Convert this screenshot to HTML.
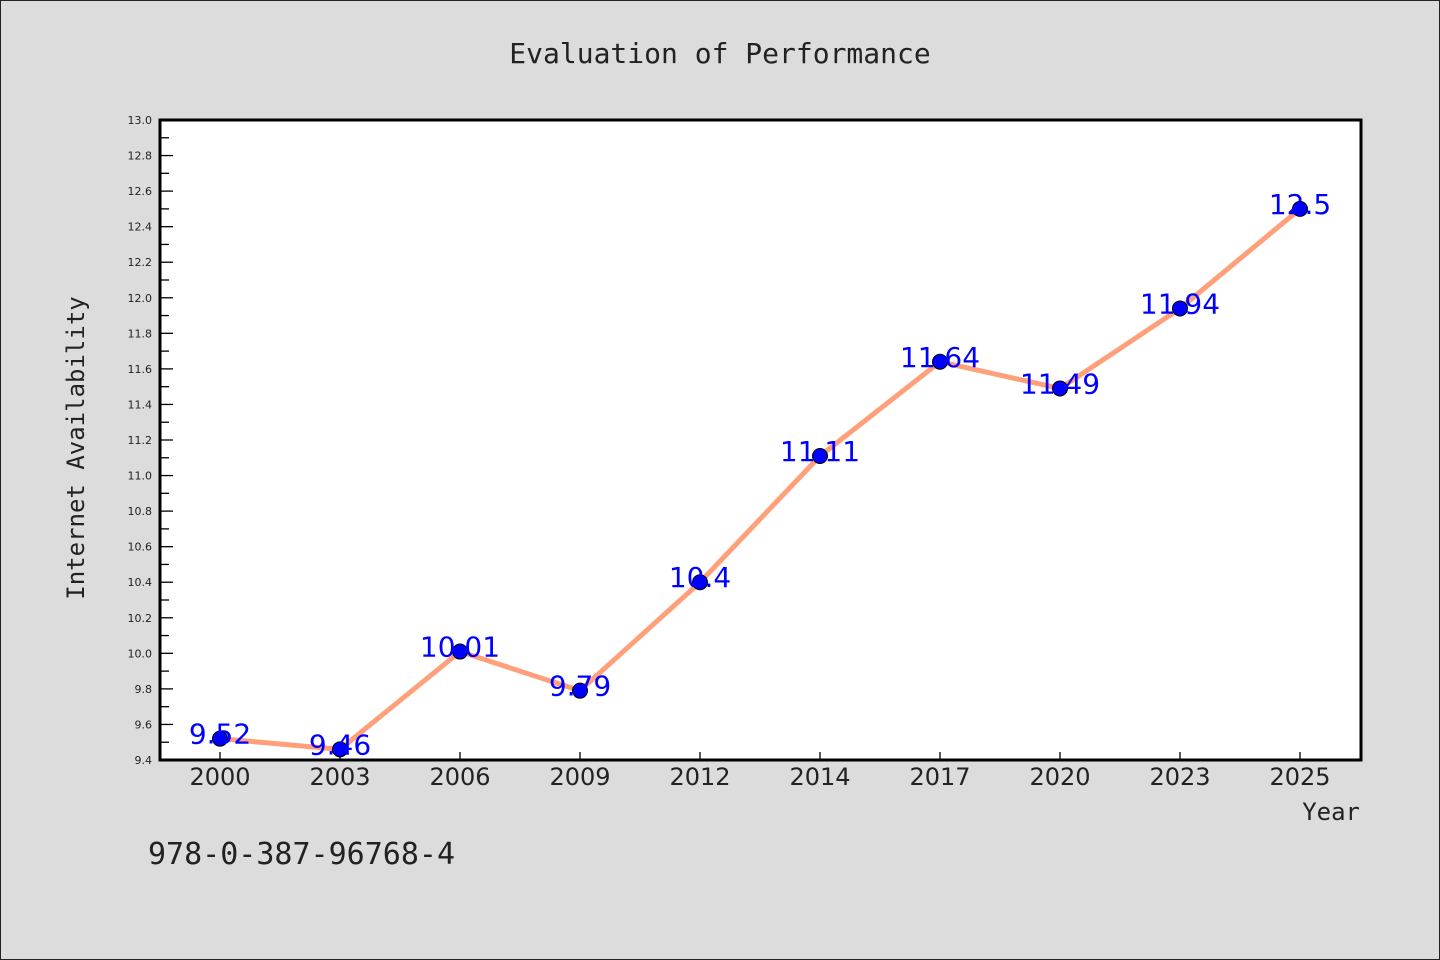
<!DOCTYPE html>
<html><head><meta charset="utf-8"><style>
html,body{margin:0;padding:0;background:#dcdcdc;}
svg{display:block;font-family:"DejaVu Sans","Liberation Sans",sans-serif;}
</style></head><body>
<svg id="chart" width="1440" height="960">
<rect x="0.5" y="0.5" width="1439" height="959" fill="#dcdcdc" stroke="#222"/>
<text x="720" y="63" text-anchor="middle" font-size="28" font-family="'DejaVu Sans Mono','Liberation Mono',monospace" fill="#222">Evaluation of Performance</text>
<rect x="160" y="120" width="1201" height="640" fill="#fff"/>
<g id="yaxis"></g>
<g id="xaxis"></g>
<g id="series"></g>
<rect x="160" y="120" width="1201" height="640" fill="none" stroke="#000" stroke-width="3"/>
<text transform="translate(84,448) rotate(-90)" text-anchor="middle" font-size="24" font-family="'DejaVu Sans Mono','Liberation Mono',monospace" fill="#222">Internet Availability</text>
<text x="1360" y="820" text-anchor="end" font-size="24" font-family="'DejaVu Sans Mono','Liberation Mono',monospace" fill="#222">Year</text>
<text x="148" y="864" font-size="30" fill="#222" font-family="'DejaVu Sans Mono','Liberation Mono',monospace">978-0-387-96768-4</text>
</svg>
<script>
const categories=["2000","2003","2006","2009","2012","2014","2017","2020","2023","2025"];
const values=[9.52,9.46,10.01,9.79,10.4,11.11,11.64,11.49,11.94,12.5];
const yTicks=[9.4,9.6,9.8,10.0,10.2,10.4,10.6,10.8,11.0,11.2,11.4,11.6,11.8,12.0,12.2,12.4,12.6,12.8,13.0];
const yMin=9.4,yMax=13.0;
const NS="http://www.w3.org/2000/svg";
const L=160,R=1361,T=120,B=760;
function y(v){return B-(v-yMin)/(yMax-yMin)*(B-T);}
function x(i){return 220+i*120;}
function mk(tag,attrs,parent){const e=document.createElementNS(NS,tag);for(const k in attrs)e.setAttribute(k,attrs[k]);parent.appendChild(e);return e;}
const ya=document.getElementById('yaxis'),xa=document.getElementById('xaxis'),sg=document.getElementById('series');
yTicks.forEach((t,i)=>{
  const yy=y(t);
  const ln=mk('line',{x1:L,x2:L+13,y1:yy,y2:yy,stroke:'#000','stroke-width':1.3},ya);
  
  
  if(i<yTicks.length-1){const ym=y(t+0.1);const m=mk('line',{x1:L,x2:L+9,y1:ym,y2:ym,stroke:'#000','stroke-width':1.3},ya);
  
  }
  const tx=mk('text',{x:152,y:yy+4,'text-anchor':'end','font-size':11,fill:'#222'},ya);
  tx.textContent=t.toFixed(1);
  
  
});
categories.forEach((c,i)=>{
  const ln=mk('line',{x1:x(i),x2:x(i),y1:B,y2:B-8,stroke:'#000','stroke-width':1.3},xa);
  
  
  const tx=mk('text',{x:x(i),y:785,'text-anchor':'middle','font-size':24,fill:'#222'},xa);
  tx.textContent=c;
  
  
});
const pts=values.map((v,i)=>x(i)+','+y(v)).join(' ');
const pl=mk('polyline',{points:pts,fill:'none',stroke:'#ffa07a','stroke-width':5,'stroke-linejoin':'round'},sg);


values.forEach((v,i)=>{
  const c=mk('circle',{cx:x(i),cy:y(v),r:7.5,fill:'#0000ff',stroke:'#000','stroke-width':1},sg);
  
  
  const t=mk('text',{x:x(i),y:y(v)+5,'text-anchor':'middle','font-size':28,fill:'#0000ff'},sg);
  t.textContent=String(v);
  
  
});
</script>
</body></html>
